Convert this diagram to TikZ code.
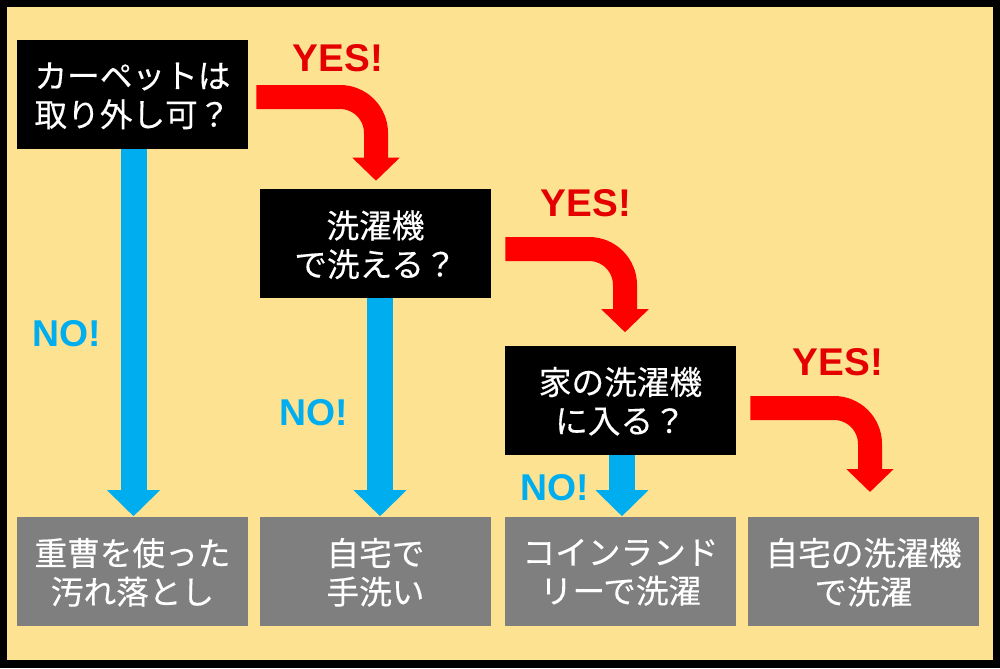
\documentclass[tikz,border=0pt]{standalone}
\usepackage{fontspec}
\setmainfont{Noto Sans CJK JP}[FakeBold=0.3]
\newfontfamily\labelfont{Liberation Sans}
\usetikzlibrary{arrows.meta}
\definecolor{cream}{HTML}{FDE391}
\definecolor{sky}{HTML}{00AEEF}
\definecolor{endgray}{HTML}{7F7F7F}
\definecolor{yesred}{HTML}{FF0000}
\tikzset{
    ask-box/.style = {fill=black, text=white, rectangle, inner sep=0pt, minimum width=173.25pt, minimum height=81.75pt, align=center, text depth=0pt, font=\fontsize{24.5}{29}\selectfont},
    end-box/.style = {ask-box, fill=endgray},
    yes-arrow/.style = {draw=yesred, line width=18pt, rounded corners=27pt, -{Triangle[width=34.5pt, length=17.25pt]}},
    no-arrow/.style = {draw=sky, line width=19.5pt, -{Triangle[width=38.5pt, length=19.5pt]}},
    yes-label/.style = {text=yesred!90!black, inner sep=0pt, font=\labelfont\bfseries\fontsize{29}{29}\selectfont},
    no-label/.style = {text=sky, inner sep=0pt, font=\labelfont\bfseries\fontsize{28}{28}\selectfont},
}
\begin{document}
\begin{tikzpicture}[x=0.75pt, y=-0.75pt]
\useasboundingbox (0,0) rectangle (1000,668);
\fill[black] (0,0) rectangle (1000,668);
\fill[cream] (7,7) rectangle (993,660);

\node[ask-box] (carpet) at (132.5,94.5) {カーペットは\\取り外し可？};
\node[ask-box] (washable) at (375.5,243.5) {洗濯機\\で洗える？};
\node[ask-box] (fits) at (620.5,400) {家の洗濯機\\に入る？};

\node[end-box] (baking) at (132.5,571) {重曹を使った\\汚れ落とし};
\node[end-box] (hand) at (375.5,571) {自宅で\\手洗い};
\node[end-box] (laundry) at (620.5,571) {コインランド\\リーで洗濯};
\node[end-box] (home) at (863.5,571) {自宅の洗濯機\\で洗濯};

\coordinate (home-tip) at (870,492);

\draw[yes-arrow] ([shift={(8,2.5)}]carpet.east) -| ([shift={(0.5,-8)}]washable.north);
\draw[yes-arrow] ([shift={(14,5.5)}]washable.east) -| ([shift={(4.5,-13)}]fits.north);
\draw[yes-arrow] ([shift={(14,8)}]fits.east) -| (home-tip);

\draw[no-arrow] ([xshift=0.75pt]carpet.south) -- ([xshift=0.75pt]baking.north);
\draw[no-arrow] ([xshift=3.4pt]washable.south) -- ([xshift=3.4pt]hand.north);
\draw[no-arrow] ([xshift=1.1pt]fits.south) -- ([xshift=1.1pt]laundry.north);

\node[yes-label] (yes-carpet) at (338,58) {YES!};
\node[yes-label] (yes-washable) at (586,203) {YES!};
\node[yes-label] (yes-fits) at (838,362) {YES!};
\node[no-label] (no-carpet) at (67,334) {NO!};
\node[no-label] (no-washable) at (314,413) {NO!};
\node[no-label] (no-fits) at (555,488) {NO!};
\end{tikzpicture}
\end{document}
